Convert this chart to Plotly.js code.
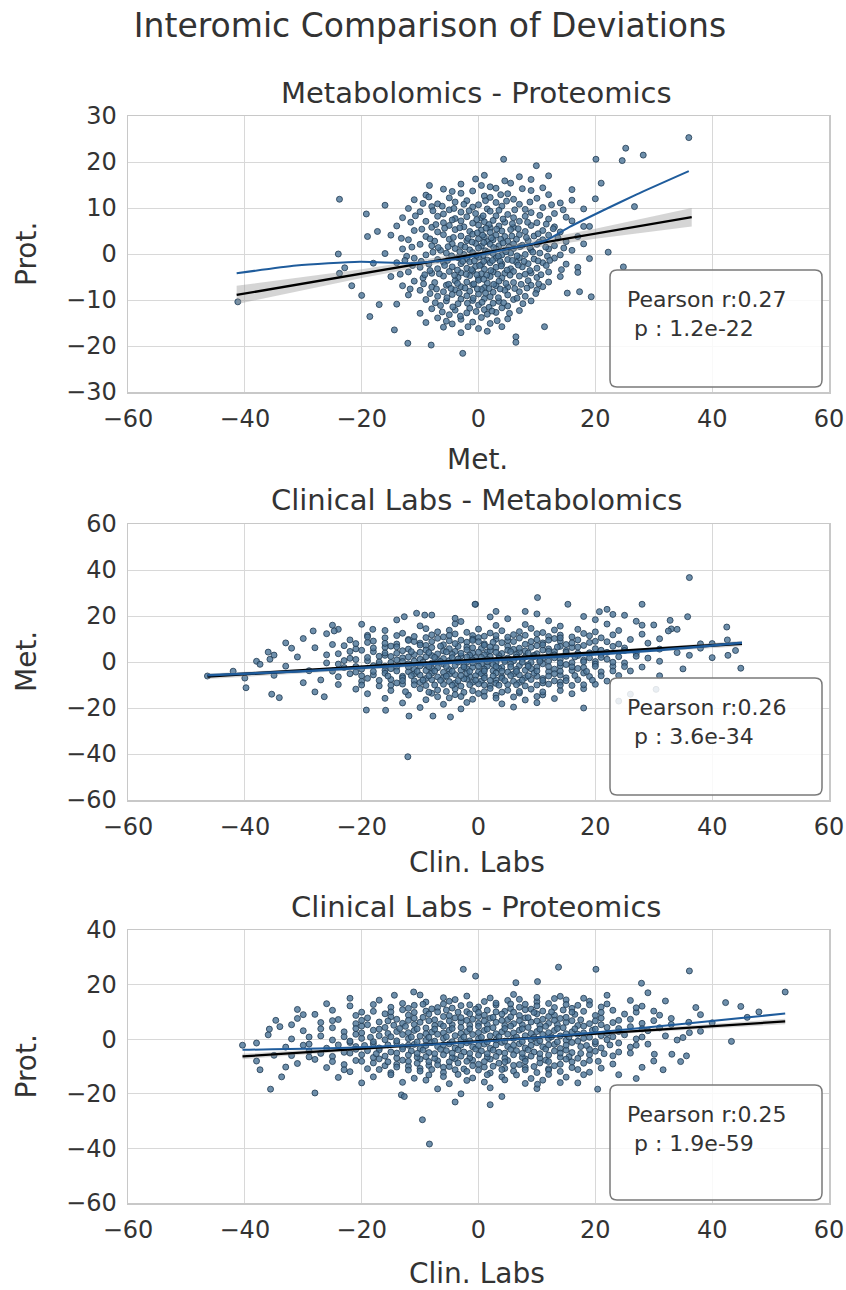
<!DOCTYPE html>
<html>
<head>
<meta charset="utf-8">
<script src="https://cdn.plot.ly/plotly-3.0.1.min.js"></script>
<style>html,body{margin:0;padding:0;background:#fff}#chart{width:846px;height:1290px}</style>
</head>
<body>
<div id="chart"></div>
<script>
// ---------- DATA ----------
const panelTitles = ['Metabolomics - Proteomics', 'Clinical Labs - Metabolomics', 'Clinical Labs - Proteomics'];
const xTitles = ['Met.', 'Clin. Labs', 'Clin. Labs'];
const yTitles = ['Prot.', 'Met.', 'Prot.'];
const pearsonR = ['0.27', '0.26', '0.25'];
const pValues = ['1.2e-22', '3.6e-34', '1.9e-59'];

// Panel 1: Met. (x) vs Prot. (y)
const p1Points = [
[-3,15.2],[2,14.6],[5.5,15.4],[-0.5,16.3],[4.5,15.9],[9,16.2],[1,17.1],[7,16.8],
[-6,14.1],[-1,13.7],[3,14.3],[9,13.8],
[-9,12.8],[-3,13.2],[1,12.6],[5,13.1],[12,12.9],
[-11,11.8],[-5,12.2],[-2,11.6],[2,12.3],[6,11.9],[10,12.1],[16,11.7],
[-7,10.9],[-4,11.3],[0,10.7],[3,11.2],[7,10.8],[14,11.1],
[-12,9.9],[-8,10.3],[-5,9.6],[-1,10.2],[1.5,9.8],[4,10.4],[8,9.7],[11,10.1],[18,9.8],
[-10,9.2],[-6,8.7],[-3,9.1],[-0.5,8.8],[2,9.3],[5,8.6],[9,9.0],[13,8.8],
[-13,7.9],[-7,8.2],[-4,7.7],[-2,8.1],[0.5,7.8],[3,8.3],[6,7.9],[8,8.2],[12,7.6],[15,8.0],
[-9,7.1],[-6,6.8],[-3,7.2],[-1,6.7],[1,7.0],[2.5,7.3],[4.5,6.9],[7,7.1],[10,6.8],[16,7.2],
[-14,6.1],[-8,5.8],[-5,6.2],[-2.5,5.9],[0,6.3],[2,5.7],[3.5,6.1],[6,5.8],[9,6.2],[13,5.9],[19,6.0],
[-11,5.1],[-7,4.8],[-4,5.3],[-1.5,4.9],[0.5,5.2],[2,4.7],[4,5.0],[5.5,5.3],[8,4.9],[11,5.1],[14,4.8],
[-15,4.1],[-9,3.8],[-6,4.2],[-3,3.9],[-1,4.3],[1,3.7],[3,4.1],[4.5,3.8],[7,4.2],[9.5,3.9],[12,4.1],[17,3.8],
[-12,3.1],[-7.5,2.8],[-5,3.2],[-2,2.9],[0,3.3],[1.5,2.7],[2.5,3.1],[5,2.8],[6.5,3.2],[8.5,2.9],[11,3.1],[15,2.7],
[-10,2.1],[-8,1.8],[-4.5,2.2],[-3,1.9],[-0.5,2.3],[0.5,1.7],[2,2.1],[3.5,1.8],[6,2.2],[7.5,1.9],[10,2.1],[13,1.8],[18,2.2],
[-13,1.1],[-6.5,0.8],[-4,1.2],[-1.5,0.9],[0,1.3],[1.2,0.7],[3,1.1],[4.5,0.8],[6,1.2],[9,0.9],[12,1.1],[16,0.8],
[-16,0.1],[-9,-0.2],[-5.5,0.2],[-2.5,-0.1],[-1,0.3],[0.8,-0.3],[2.5,0.1],[4,-0.2],[5.5,0.2],[8,-0.1],[10.5,0.2],[14,-0.2],
[-11,-0.9],[-7,-1.2],[-3.5,-0.8],[-2,-1.1],[0,-0.7],[1.5,-1.3],[3,-0.9],[5,-1.2],[7,-0.8],[9.5,-1.1],[13,-0.9],
[-14,-1.9],[-8.5,-2.2],[-6,-1.8],[-3,-2.1],[-1.5,-1.7],[0.5,-2.3],[2,-1.9],[4,-2.2],[6.5,-1.8],[8.5,-2.1],[11,-1.9],[15,-2.2],
[-10,-2.9],[-7,-3.2],[-4.5,-2.8],[-2,-3.1],[-0.5,-2.7],[1,-3.3],[3,-2.9],[5.5,-3.2],[7.5,-2.8],[10,-3.1],[17,-2.9],
[-12,-3.9],[-8,-4.2],[-5,-3.8],[-3,-4.1],[-1,-3.7],[0.5,-4.3],[2.5,-3.9],[4.5,-4.2],[6,-3.8],[9,-4.1],[12,-3.9],
[-15,-4.9],[-9.5,-5.2],[-6,-4.8],[-3.5,-5.1],[-1.5,-4.7],[0,-5.3],[2,-4.9],[4,-5.2],[7,-4.8],[10,-5.1],[14,-4.9],
[-11,-5.9],[-7.5,-6.2],[-4,-5.8],[-2,-6.1],[0,-5.7],[1.5,-6.3],[3.5,-5.9],[6,-6.2],[8.5,-5.8],[12,-6.1],
[-13,-6.9],[-8,-7.2],[-5.5,-6.8],[-3,-7.1],[-1,-6.7],[1,-7.3],[3,-6.9],[5,-7.2],[9,-6.8],[11,-7.1],
[-10,-7.9],[-6,-8.2],[-4,-7.8],[-1.5,-8.1],[0.5,-7.7],[2.5,-8.3],[4.5,-7.9],[7,-8.2],[10,-7.8],
[-12,-8.9],[-7,-9.2],[-4.5,-8.8],[-2,-9.1],[0,-8.7],[2,-9.3],[5,-8.9],[8,-9.2],
[-9,-9.9],[-5.5,-10.2],[-3,-9.8],[-1,-10.1],[1,-9.7],[3.5,-10.3],[6,-9.9],[9,-10.2],
[-14,-10.9],[-6.5,-11.2],[-3.5,-10.8],[0,-11.1],[2.5,-10.7],[5,-11.3],
[-8,-11.9],[-4,-12.2],[-1.5,-11.8],[1,-12.1],[4,-11.7],[7,-12.3],
[-10,-12.9],[-5,-13.2],[-2,-12.8],[1.5,-13.1],[3,-12.7],
[-7,-13.9],[-3,-14.2],[0.5,-13.8],[5,-14.1],
[-9,-14.9],[-4.5,-15.2],[-1,-14.8],[2,-15.1],
[-6,-15.9],[0,-16.2],[4,-15.8],[-3,-17.1],[1.5,-16.8],
[-8.5,12.4],[-4.5,13.6],[0.5,14.9],[3.8,12.9],[7.5,14.2],[11,14.4],
[-9.5,11.0],[-6.2,10.4],[-2.5,10.8],[1.2,11.6],[4.8,11.5],[8.8,11.3],[12.5,10.7],
[-10.8,8.3],[-7.8,9.4],[-4.2,9.9],[-1.6,9.4],[0.8,8.3],[3.5,9.5],[6.2,9.6],[10.5,8.4],[14.5,9.6],
[-11.6,6.9],[-7.3,6.4],[-4.5,7.4],[-0.3,7.5],[1.8,6.4],[4.2,7.6],[5.8,6.6],[8.4,6.9],[11.6,6.5],
[-9.7,5.4],[-5.8,5.6],[-3.2,5.7],[-0.2,4.6],[1.3,5.6],[3.1,5.4],[6.8,5.5],[10.2,4.4],[12.8,5.5],
[-13.2,3.4],[-8.3,3.3],[-4.3,3.6],[-1.8,3.4],[0.7,4.1],[2.2,3.5],[3.8,3.2],[5.7,3.9],[8.2,3.6],[10.4,2.6],[13.6,3.5],
[-11.4,1.5],[-6.9,1.4],[-5.2,1.6],[-2.3,1.5],[-1.1,2.6],[0.9,2.5],[2.6,1.4],[4.2,2.4],[5.2,1.5],[7.1,1.6],[8.8,1.4],[11.5,1.5],[14.6,1.3],
[-12.3,-0.5],[-7.8,0.4],[-4.6,-0.4],[-3.2,0.5],[-0.4,-0.3],[1.6,0.4],[3.4,-0.5],[4.7,0.5],[6.6,-0.4],[9.3,0.4],[11.8,-0.5],
[-12.6,-1.4],[-9.8,-1.6],[-5.3,-1.4],[-2.7,-1.6],[-0.7,-1.5],[0.9,-1.6],[2.4,-1.4],[3.7,-1.6],[5.8,-1.4],[7.8,-1.6],[10.2,-1.5],[12.2,-1.4],
[-11.3,-2.5],[-8.3,-3.6],[-5.8,-2.5],[-3.6,-3.5],[-1.2,-3.4],[0.2,-2.5],[2.1,-3.6],[3.9,-2.6],[4.9,-3.5],[6.8,-2.4],[8.8,-3.6],[11.6,-2.5],[14.2,-3.4],
[-13.4,-4.4],[-9.2,-4.5],[-6.7,-4.3],[-4.1,-4.6],[-2.1,-4.4],[-0.3,-4.5],[1.4,-4.6],[3.3,-4.4],[5.4,-4.6],[8,-4.4],[10.7,-4.5],
[-9.4,-6.5],[-5.1,-6.6],[-3.6,-6.4],[-0.8,-6.5],[0.9,-5.5],[2.6,-6.6],[4.7,-6.4],[7.3,-6.6],[10.3,-6.5],
[-11.7,-7.6],[-7.2,-7.6],[-4.7,-7.5],[-2.3,-7.4],[-0.2,-7.6],[1.8,-7.5],[3.7,-7.6],[6.2,-7.5],[8.3,-7.4],
[-8.3,-8.6],[-5.4,-9.5],[-3.3,-8.5],[-0.9,-9.6],[1.2,-8.5],[3.4,-9.5],[6.6,-9.6],[9.8,-8.6],
[-7.4,-10.6],[-4.4,-11.5],[-1.9,-10.7],[0.6,-10.5],[1.8,-11.6],[4.3,-10.6],[7.6,-10.8],
[-6.2,-12.6],[-3.1,-13.5],[-0.4,-12.5],[2.3,-12.4],[5.3,-12.9],[-5.5,-14.6],[-1.8,-15.8],[3.2,-14.5],
[36,25.3],[25.2,23],[28.2,21.5],[24.6,20.3],[20.1,20.6],[4.3,20.6],[9.9,19.2],[21,15.4],[26.7,10.3],[22.2,0.4],
[24.8,-2.8],[19.3,-9.3],[17.3,-8.2],[15.2,-8.5],[11.3,-15.8],[6.4,-18],[6.4,-19.2],[-23.8,11.9],[-24,0],[-41.2,-10.4],
[-21.7,-6.9],[-19.2,8.7],[-18.6,-13.6],[-16,10.6],[-8.4,14.9],[-14.4,-16.5],[-12.1,-19.4],[-8.1,-19.8],[-2.7,-21.6],
[-19,3.8],[-17.3,4.9],[-23.8,-4.2],[-22.9,-3],[20,12],[18,6],[17,-4],[19,-1],[-18,-2],[-20,-9],[-17,-11],[16,14],[12,17]
];
const p1FitX = [-41.4, 36.5];
const p1FitY = [-8.9, 8.0];
const p1CiX = [-41.4, -20, 0, 20, 36.5];
const p1CiUpper = [-6.9, -3.3, 0.7, 5.5, 10.0];
const p1CiLower = [-10.9, -5.2, -0.5, 3.3, 6.0];
const p1LowessX = [-41.4, -31.2, -20.3, -11.2, -2.7, 5.3, 11.6, 15.6, 21.2, 27, 36];
const p1LowessY = [-4.2, -2.5, -1.7, -2.0, -0.9, 1.2, 3.0, 5.9, 9.4, 12.9, 18.0];

// Panel 2: Clin. Labs (x) vs Met. (y)
const p2Points = [
[-8,20.4],[2,19.6],[10,20.9],[18,19.8],[25,20.3],
[-14,18.3],[-3,17.6],[5,18.8],[12,17.9],[20,18.4],[27,17.7],
[-20,16.4],[-10,15.7],[-4,16.6],[3,15.9],[8,16.3],[14,15.6],[22,16.5],[30,16.1],
[-24,14.2],[-16,13.7],[-9,14.5],[-5,13.8],[0,14.3],[4,13.6],[9,14.6],[13,13.9],[17,14.2],[24,13.7],[33,14.4],
[-26,12.3],[-19,11.6],[-13,12.5],[-8,11.8],[-4,12.2],[-1,11.5],[2,12.6],[6,11.9],[10,12.3],[14,11.7],[18,12.4],[23,11.8],[28,12.1],
[-30,10.2],[-22,9.6],[-16,10.5],[-12,9.8],[-7,10.3],[-3,9.5],[0,10.6],[3,9.9],[7,10.4],[10,9.7],[13,10.2],[17,9.6],[21,10.5],[26,9.8],[31,10.1],
[-33,8.3],[-25,7.6],[-19,8.5],[-14,7.8],[-10,8.2],[-6,7.5],[-2,8.6],[1,7.9],[4,8.4],[8,7.7],[11,8.3],[15,7.6],[19,8.5],[24,7.8],[29,8.2],[38,7.9],
[-28,6.2],[-21,5.7],[-16,6.4],[-12,5.6],[-8,6.3],[-5,5.8],[-2,6.5],[0.5,5.9],[3,6.2],[6,5.5],[9,6.4],[12,5.7],[16,6.3],[20,5.8],[25,6.1],[31,5.6],
[-36,4.3],[-24,3.6],[-18,4.5],[-14,3.8],[-10,4.2],[-7,3.5],[-4,4.6],[-1,3.9],[1.5,4.4],[4,3.7],[7,4.3],[10,3.6],[13,4.5],[17,3.8],[22,4.2],[27,3.7],[34,4.1],
[-31,2.2],[-22,1.6],[-17,2.5],[-13,1.8],[-9,2.3],[-6,1.5],[-3,2.6],[-0.5,1.9],[2,2.4],[5,1.7],[8,2.2],[11,1.6],[15,2.5],[19,1.8],[24,2.3],[29,1.7],
[-38,0.3],[-26,-0.4],[-19,0.5],[-15,-0.2],[-11,0.4],[-8,-0.5],[-5,0.6],[-2,-0.1],[0,0.3],[3,-0.4],[6,0.5],[9,-0.2],[12,0.4],[16,-0.3],[20,0.2],[25,-0.4],[31,0.3],
[-33,-1.8],[-23,-2.4],[-18,-1.6],[-14,-2.2],[-10,-1.7],[-7,-2.5],[-4,-1.5],[-1,-2.3],[1.5,-1.8],[4,-2.4],[7,-1.6],[10,-2.2],[14,-1.7],[18,-2.4],[23,-1.9],[28,-2.2],
[-29,-3.8],[-21,-4.4],[-16,-3.6],[-12,-4.2],[-9,-3.7],[-6,-4.5],[-3,-3.5],[0,-4.3],[2.5,-3.8],[5,-4.4],[8,-3.6],[12,-4.2],[16,-3.7],[21,-4.3],[26,-3.9],
[-35,-5.8],[-24,-6.4],[-18,-5.6],[-13,-6.2],[-10,-5.7],[-7,-6.5],[-4,-5.5],[-1.5,-6.3],[1,-5.8],[4,-6.4],[7,-5.6],[10,-6.2],[14,-5.7],[19,-6.3],[24,-5.9],
[-27,-7.8],[-20,-8.4],[-15,-7.6],[-11,-8.2],[-8,-7.7],[-5,-8.5],[-2,-7.5],[0.5,-8.3],[3,-7.8],[6,-8.4],[9,-7.6],[13,-8.2],[17,-7.7],[22,-8.3],
[-24,-9.8],[-17,-10.4],[-13,-9.6],[-9,-10.2],[-6,-9.7],[-3,-10.5],[0,-9.5],[2,-10.3],[5,-9.8],[8,-10.4],[12,-9.6],[16,-10.2],[20,-9.7],
[-21,-11.8],[-15,-12.4],[-10,-11.6],[-7,-12.2],[-4,-11.7],[-1,-12.5],[2,-11.5],[5,-12.3],[9,-11.8],[14,-12.4],[18,-11.6],
[-19,-13.8],[-12,-14.4],[-8,-13.6],[-4,-14.2],[0,-13.7],[3,-14.5],[7,-13.5],[11,-14.3],[16,-13.8],
[-16,-15.8],[-9,-16.4],[-5,-15.6],[-1,-16.2],[3,-15.7],[8,-16.5],[13,-15.9],
[-13,-17.8],[-6,-18.4],[-2,-17.6],[4,-18.2],[10,-17.7],
[-10,-19.8],[-3,-20.4],[6,-19.6],
[-18,9.1],[-11,8.9],[-5,9.2],[0,8.8],[5,9.3],[9,8.9],[14,9.1],[20,9.0],
[-23,7.1],[-15,6.9],[-9,7.2],[-3.5,6.8],[1,7.3],[5,6.9],[10,7.1],[14,6.8],[18,7.2],
[-20,5.1],[-13,4.9],[-9,5.2],[-6,4.8],[-2,5.3],[2,4.9],[5,5.1],[8,4.8],[11,5.2],[15,4.9],[21,5.1],
[-26,3.1],[-16,2.9],[-11,3.2],[-8,2.8],[-4.5,3.3],[-1.5,2.9],[1,3.1],[3.5,2.8],[6.5,3.2],[9.5,2.9],[13,3.1],[17,2.8],[21,3.2],
[-21,1.1],[-14,0.9],[-10,1.2],[-7,0.8],[-3.5,1.3],[-1,0.9],[1.5,1.1],[4.5,0.8],[7.5,1.2],[10.5,0.9],[14,1.1],[18,0.8],[22,1.2],
[-24,-0.9],[-17,-1.1],[-12,-0.8],[-9,-1.2],[-6,-0.9],[-2.5,-1.3],[0.5,-0.8],[2.5,-1.1],[5.5,-0.9],[8.5,-1.2],[11,-0.8],[15,-1.1],[20,-0.9],
[-20,-3.1],[-15,-2.9],[-11,-3.2],[-8,-2.8],[-5,-3.3],[-2,-2.9],[1,-3.1],[3.5,-2.8],[6.5,-3.2],[9,-2.9],[13,-3.1],[17,-2.8],
[-22,-5.1],[-16,-4.9],[-11,-5.2],[-8,-4.8],[-5,-5.3],[-2,-4.9],[0.5,-5.1],[3,-4.8],[6,-5.2],[9.5,-4.9],[13,-5.1],[18,-4.8],
[-19,-7.1],[-13,-6.9],[-9,-7.2],[-6,-6.8],[-2.5,-7.3],[1,-6.9],[4,-7.1],[8,-6.8],[11,-7.2],[15,-6.9],
[-14,-9.1],[-10,-8.9],[-4,-9.2],[-1,-8.8],[3,-9.3],[7,-8.9],[11,-9.1],[14,-8.8],
[-11,11.1],[-6,10.9],[1,11.2],[5,10.8],[12,11.1],[16,10.9],
[-7,13.1],[-2,12.9],[7,13.2],[11,12.8],[20,13.1],
[-19,10.9],[-14,11.5],[-9,10.6],[-5,11.6],[-1,10.0],[3,11.5],[8,11.6],[14,10.5],[19,11.4],
[-21,8.0],[-16,8.1],[-12,9.4],[-8,8.9],[-4,8.0],[-1,9.4],[2.5,8.6],[6,8.9],[12,9.5],[16,8.3],[22,8.8],
[-18,6.1],[-14,6.6],[-10,7.4],[-6.5,6.9],[-1,6.2],[2,6.6],[7,6.0],[11,7.5],[13.5,6.5],[17,6.5],[23,6.8],
[-22,4.6],[-16,3.9],[-11.5,4.5],[-8.5,4.1],[-5.5,4.4],[-3,3.8],[0,4.3],[3,4.2],[5.5,4.5],[8.5,3.9],[12,4.6],[15,4.2],[19,4.0],[25,5.0],
[-19,2.0],[-15,2.4],[-12,2.2],[-7.5,2.0],[-4.5,1.9],[-2,2.2],[0.5,2.0],[3.5,1.6],[6.5,2.1],[9.5,2.3],[13,1.8],[16.5,2.2],[21,2.0],[27,2.5],
[-23,0.6],[-17,0.0],[-13,0.2],[-9.5,-0.1],[-6.5,0.2],[-3.5,0.0],[-1,-0.3],[1.5,0.1],[4.5,0.2],[7.5,-0.1],[10.5,0.3],[14,-0.4],[18,0.1],[23,-0.1],
[-21,-2.0],[-16,-1.8],[-12,-2.1],[-8.5,-2.0],[-5.5,-1.9],[-2.5,-2.1],[0,-1.8],[3,-2.0],[5.5,-2.1],[8.5,-1.9],[12,-2.0],[16,-2.1],[20,-1.9],[25,-2.0],
[-25,-4.0],[-18,-4.1],[-14,-3.9],[-10.5,-4.1],[-7.5,-3.9],[-4.5,-4.0],[-1.5,-4.1],[1,-3.9],[4,-4.0],[6.5,-4.1],[10,-3.9],[14,-4.0],[18.5,-4.1],[23,-3.9],
[-20,-6.0],[-15.5,-6.1],[-11.5,-5.9],[-8.5,-6.0],[-5.5,-6.1],[-3,-5.9],[-0.5,-6.0],[2.5,-6.1],[5.5,-5.9],[8.5,-6.0],[12,-6.1],[16.5,-5.9],[21,-6.0],
[-17,-8.0],[-13,-8.1],[-9.5,-7.9],[-6.5,-8.0],[-3.5,-8.1],[-0.5,-7.9],[2,-8.0],[4.5,-8.1],[7.5,-7.9],[11,-8.0],[15,-8.1],[19.5,-7.9],
[-20,-10.0],[-15,-10.1],[-11,-9.9],[-7.5,-10.0],[-4.5,-10.1],[-1.5,-9.9],[1,-10.0],[3.5,-10.1],[6.5,-9.9],[10,-10.0],[14,-10.1],[18,-9.9],
[-12.5,-12.9],[-8.5,-13.1],[-5.5,-12.8],[-2.5,-13.2],[1,-12.9],[4,-13.1],[7,-12.8],[11,-13.0],[-7,-15.1],[-3,-15.0],[1,-14.9],[6,-15.2],[10,-15.0],
[36.1,36.7],[28,25.1],[15.3,25.1],[10.1,28],[-0.5,25.1],[35.8,19.7],[32.8,18.1],[42.5,15.2],[42.6,9.6],[44.9,-2.7],
[40,1.9],[42.7,2.9],[36.1,2.9],[34,14.2],[32.5,13.5],[30.4,-11.9],[22,22.9],[20.7,21.9],[23,20.7],[-12.1,-41.2],
[-46.4,-6.1],[-39.8,-11.2],[-37.4,-1],[-35.7,1.2],[-35,3],[-28.3,13.5],[-24.7,13.5],[-35.4,-14],[-34.1,-15.5],[-26.4,-15.1],
[-19.2,-20.9],[-15.9,-21],[-11.9,-23.5],[-7.8,-23.5],[-4.8,-23.9],[-18.1,14.2],[-12.7,19.7],[-10.6,21.2],[-9.2,20.4],[-0.6,25.1],
[38,6],[40,8],[44,5],[-42,-4],[-40,-7],[-30,-9],[-32,6],[-28,-13],[26,-14],[24,-17],[18,-20],[31,-6],[35,-3],[-25,16],[28,16],[3,22],[8,22],[-4,19]
];
const p2FitX = [-46.4, 45.1];
const p2FitY = [-6.2, 8.0];
const p2CiX = [-46.4, 0, 45.1];
const p2CiUpper = [-5.0, 0.5, 9.2];
const p2CiLower = [-7.4, -0.4, 6.8];
const p2LowessX = [-46.4, -30, -15, 0, 15, 30, 45.1];
const p2LowessY = [-5.8, -4.0, -1.8, 0.3, 2.5, 5.0, 8.4];

// Panel 3: Clin. Labs (x) vs Prot. (y)
const p3Points = [
[-10,16.2],[-2,15.8],[6,16.4],[14,15.7],[22,16.1],
[-17,14.3],[-9,13.6],[-4,14.5],[1,13.8],[5,14.2],[10,13.7],[15,14.4],[19,13.9],[26,14.2],
[-22,12.2],[-15,11.7],[-11,12.4],[-7,11.6],[-3,12.3],[0,11.8],[3,12.5],[7,11.7],[10,12.2],[13,11.6],[17,12.4],[21,11.8],[28,12.1],
[-25,10.6],[-18,10.2],[-13,10.8],[-9,10.3],[-5.5,10.7],[-2,10.1],[1.5,10.6],[4.5,10.2],[8,10.8],[11,10.3],[14.5,10.7],[18,10.2],[23,10.6],[30,10.3],
[-28,9.1],[-21,8.7],[-16,9.3],[-12,8.8],[-8.5,9.2],[-5,8.6],[-1.5,9.3],[1,8.8],[4,9.2],[7,8.7],[10,9.3],[13,8.8],[16.5,9.1],[20,8.7],[25,9.2],[31,8.8],
[-31,7.6],[-24,7.2],[-19,7.8],[-14,7.3],[-11,7.7],[-7.5,7.1],[-4,7.8],[-1,7.3],[2,7.7],[5,7.2],[8,7.8],[11,7.3],[14,7.6],[17.5,7.1],[21,7.7],[26,7.3],[33,7.6],
[-27,6.1],[-21,5.7],[-17,6.3],[-13,5.8],[-10,6.2],[-6.5,5.6],[-3,6.3],[0,5.8],[3,6.2],[6,5.7],[9,6.3],[12,5.8],[15,6.2],[19,5.7],[23,6.1],[28,5.8],[36,6.2],
[-34,4.6],[-25,4.2],[-20,4.8],[-16,4.3],[-12.5,4.7],[-9,4.1],[-6,4.8],[-3,4.3],[0,4.7],[2.5,4.2],[5.5,4.8],[8.5,4.3],[11.5,4.7],[14.5,4.2],[18,4.8],[22,4.3],[26,4.6],[31,4.2],
[-30,3.1],[-23,2.7],[-18,3.3],[-14,2.8],[-11,3.2],[-8,2.6],[-5,3.3],[-2,2.8],[1,3.2],[4,2.7],[7,3.3],[10,2.8],[13,3.2],[16,2.7],[19.5,3.3],[24,2.8],[29,3.1],[38,2.9],
[-36,1.6],[-27,1.2],[-21,1.8],[-17,1.3],[-13,1.7],[-10,1.1],[-7,1.8],[-4,1.3],[-1,1.7],[2,1.2],[5,1.8],[8,1.3],[11,1.7],[14,1.2],[17,1.8],[21,1.3],[25,1.6],[32,1.2],
[-32,0.1],[-25,-0.3],[-20,0.3],[-16,-0.2],[-12,0.2],[-9,-0.4],[-6,0.3],[-3,-0.2],[0,0.2],[3,-0.3],[6,0.3],[9,-0.2],[12,0.2],[15,-0.4],[18,0.3],[22,-0.2],[27,0.1],[34,-0.3],
[-38,-1.4],[-29,-1.8],[-22,-1.2],[-18,-1.7],[-14,-1.3],[-11,-1.9],[-8,-1.2],[-5,-1.7],[-2,-1.3],[1,-1.8],[4,-1.2],[7,-1.7],[10,-1.3],[13,-1.9],[16,-1.2],[20,-1.7],[24,-1.4],[29,-1.8],
[-33,-2.9],[-26,-3.3],[-21,-2.7],[-17,-3.2],[-13,-2.8],[-10,-3.4],[-7,-2.7],[-4,-3.2],[-1,-2.8],[2,-3.3],[5,-2.7],[8,-3.2],[11,-2.8],[14,-3.4],[17.5,-2.7],[21,-3.2],[26,-2.9],
[-29,-4.4],[-23,-4.8],[-19,-4.2],[-15,-4.7],[-11.5,-4.3],[-8.5,-4.9],[-5.5,-4.2],[-2.5,-4.7],[0.5,-4.3],[3.5,-4.8],[6.5,-4.2],[9.5,-4.7],[13,-4.3],[16,-4.9],[20,-4.4],[24,-4.7],
[-35,-5.9],[-25,-6.3],[-20,-5.7],[-16,-6.2],[-12,-5.8],[-9,-6.4],[-6,-5.7],[-3,-6.2],[0,-5.8],[3,-6.3],[6,-5.7],[9,-6.2],[12,-5.8],[15.5,-6.4],[19,-5.7],[23,-6.1],
[-28,-7.4],[-21,-7.8],[-17,-7.2],[-13,-7.7],[-10,-7.3],[-7,-7.9],[-4,-7.2],[-1,-7.7],[2,-7.3],[5,-7.8],[8,-7.2],[11.5,-7.7],[15,-7.3],[19,-7.8],
[-31,-8.9],[-23,-9.3],[-18,-8.7],[-14,-9.2],[-10.5,-8.8],[-7,-9.4],[-3.5,-8.7],[0,-9.2],[3.5,-8.8],[7,-9.3],[10.5,-8.7],[14,-9.2],[18,-8.8],[23,-9.1],
[-26,-10.4],[-19,-10.8],[-14,-10.2],[-10,-10.7],[-6,-10.3],[-2.5,-10.9],[1,-10.2],[4.5,-10.7],[8,-10.3],[12,-10.8],[16,-10.4],[21,-10.6],
[-22,-11.9],[-15,-12.3],[-10,-11.7],[-6,-12.2],[-2,-11.8],[2,-12.4],[6,-11.7],[10,-12.2],[14,-11.8],[19,-12.1],
[-18,-13.8],[-11,-14.3],[-6,-13.7],[-1,-14.2],[4,-13.8],[9,-14.4],[15,-13.9],
[-13,-15.8],[-5,-16.3],[1,-15.7],[8,-16.2],[14,-15.9],
[-7,-18.2],[2,-17.8],[10,-18.1],
[-15,8.2],[-9.5,8.0],[-6,8.3],[-3,7.9],[0,8.3],[2.5,8.0],[5.5,8.2],[8.5,7.9],[12,8.3],[15,8.0],
[-19,5.3],[-14.5,5.1],[-11,5.4],[-7.5,5.0],[-4.5,5.3],[-1.5,5.1],[1.5,5.4],[4.5,5.0],[7.5,5.3],[10.5,5.1],[13.5,5.4],[17,5.0],[21,5.3],
[-20,2.3],[-15.5,2.1],[-12,2.4],[-9,2.0],[-6,2.3],[-3,2.1],[0,2.4],[3,2.0],[6,2.3],[9,2.1],[12,2.4],[15,2.0],[18,2.3],[22,2.1],
[-22,-0.7],[-18,-0.9],[-14,-0.6],[-10.5,-1.0],[-7.5,-0.7],[-4.5,-0.9],[-1.5,-0.6],[1.5,-1.0],[4.5,-0.7],[7.5,-0.9],[10.5,-0.6],[13.5,-1.0],[17,-0.7],[20,-0.9],
[-21,-3.7],[-17,-3.9],[-13,-3.6],[-9.5,-4.0],[-6.5,-3.7],[-3.5,-3.9],[-0.5,-3.6],[2.5,-4.0],[5.5,-3.7],[8.5,-3.9],[11.5,-3.6],[15,-4.0],[19,-3.7],
[-18,-6.7],[-14,-6.9],[-10.5,-6.6],[-7.5,-7.0],[-4.5,-6.7],[-1.5,-6.9],[1.5,-6.6],[4.5,-7.0],[7.5,-6.7],[10.5,-6.9],[14,-6.6],[17,-7.0],
[-16,-9.7],[-12,-9.9],[-8.5,-9.6],[-5,-10.0],[-1,-9.7],[2.5,-9.9],[6,-9.6],[9.5,-10.0],[13,-9.7],
[-12,11.3],[-8,11.1],[-4.5,11.4],[-0.5,11.0],[5.5,11.2],[9,11.0],[16,11.3],
[-13,13.1],[-6,12.9],[3,13.2],[8,12.8],[12,13.1],[22,12.9],
[-6,15.2],[2,15.1],[10,15.3],[18,15.0],
[-18,12.7],[-9.5,12.8],[-1.5,12.6],[5.5,12.9],[15,12.7],[19,12.6],
[-20,9.9],[-15,10.0],[-11,9.8],[-7,10.0],[-3.5,9.9],[0,9.8],[3,10.0],[6,9.9],[9.5,9.8],[12.5,10.0],[16,9.9],[21,9.8],[27,9.9],
[-25,6.8],[-20,6.9],[-15.5,6.7],[-12,6.9],[-8.5,6.8],[-5,6.7],[-2,6.9],[1,6.7],[4,6.9],[7,6.8],[10,6.7],[13,6.9],[16,6.8],[20,6.7],[24,6.9],[30,6.8],
[-27,3.8],[-21,3.9],[-17,3.7],[-13.5,3.9],[-10.5,3.8],[-7.5,3.7],[-4.5,3.9],[-1.5,3.8],[1.5,3.7],[4.5,3.9],[7.5,3.8],[10.5,3.7],[13.5,3.9],[16.5,3.8],[20,3.7],[24,3.9],[28,3.8],
[-29,0.8],[-23,0.9],[-18.5,0.7],[-15,0.9],[-11.5,0.8],[-8.5,0.7],[-5.5,0.9],[-2.5,0.8],[0.5,0.7],[3.5,0.9],[6.5,0.8],[9.5,0.7],[12.5,0.9],[15.5,0.8],[19,0.7],[23,0.9],[28,0.8],
[-30,-2.2],[-24,-2.1],[-19.5,-2.3],[-15.5,-2.1],[-12,-2.2],[-9,-2.3],[-6,-2.1],[-3,-2.2],[0,-2.3],[3,-2.1],[6,-2.2],[9,-2.3],[12,-2.1],[15,-2.2],[18.5,-2.3],[22.5,-2.1],[27,-2.2],
[-27,-5.2],[-22,-5.1],[-17.5,-5.3],[-14,-5.1],[-10.5,-5.2],[-7.5,-5.3],[-4.5,-5.1],[-1.5,-5.2],[1.5,-5.3],[4.5,-5.1],[7.5,-5.2],[10.5,-5.3],[14,-5.1],[17.5,-5.2],[21.5,-5.3],[26,-5.1],
[-25,-8.2],[-20,-8.1],[-15.5,-8.3],[-12,-8.1],[-8.5,-8.2],[-5,-8.3],[-2,-8.1],[1,-8.2],[4.5,-8.3],[8,-8.1],[12,-8.2],[16,-8.3],[20.5,-8.1],
[-23,-11.2],[-17,-11.1],[-12,-11.3],[-8,-11.1],[-4,-11.2],[0,-11.3],[4,-11.1],[8,-11.2],[12,-11.3],[17,-11.1],
[-15,-13.0],[-8.5,-13.1],[-3.5,-12.9],[1.5,-13.0],[6.5,-13.1],[12,-12.9],[18,-13.0],
[-9,-15.0],[-2,-15.1],[4.5,-14.9],[11,-15.0],
[-5,13.9],[7,14.6],[13,14.9],[-32,5.3],[-29,-6.5],[-33,-10.2],[30,-8],[28,-10.3],[33,5.4],[35,0.6],[-31,10.9],[27,11.5],
[-40.4,-2.2],[-35.6,-18.3],[-37.4,-11.2],[-33.7,-13.8],[-28,-19.7],[-35.8,3.7],[-34.7,6.9],[-9.6,-29.5],[-8.4,-38.4],[-2.6,25.6],
[-0.5,23.1],[-14.4,16.1],[-11.1,17.3],[-13.2,-20.4],[-12.7,-21],[13.7,26.4],[20.1,25.6],[36.1,25],[52.5,17.3],[43.3,-0.8],
[6.4,20.7],[10.1,21.1],[27.9,20.5],[44.9,12],[42.3,13.4],[37.2,11.6],[31.6,-11.2],[34.6,-8.2],[35.6,-6.1],[33.1,-5.5],
[30.1,-5.5],[27,-14.4],[20.4,-18.3],[10.1,-16.5],[36.1,2.4],[-38,-8],[-32,-6],[-30,9],[-26,13],[-22,15],
[40,6],[46,8],[48,10],[38,9],[32,14],[29,17],[-3,-20],[4,-21],[2,-24],[-4,-23],[17,-16],[24,-13],[-24,-14],[-20,-16]
];
const p3FitX = [-40.4, 52.5];
const p3FitY = [-6.3, 6.5];
const p3CiX = [-40.4, 0, 52.5];
const p3CiUpper = [-5.3, -0.4, 7.5];
const p3CiLower = [-7.3, -1.05, 5.5];
const p3LowessX = [-40.4, -21.5, 0.5, 19.5, 34.4, 52.5];
const p3LowessY = [-3.9, -3.0, -0.9, 2.4, 5.5, 9.4];

const yRanges = [[-30, 30], [-60, 60], [-60, 40]];
const yDticks = [10, 20, 20];
const xRange = [-60, 60];

// ---------- LAYOUT GEOMETRY (pixels in the 846x1290 figure) ----------
const W = 846, H = 1290;
const fx = p => p / W;
const fy = p => 1 - p / H;
const plotLeft = 128, plotRight = 829;
const plotTops = [116, 524, 930];
const plotBottoms = [392, 800, 1203];
const titleYs = [93, 500, 907];
const xTitleYs = [460, 862, 1273];
const boxTops = [270, 678, 1085];
const boxBottoms = [387, 795, 1200];
const boxLeft = 610, boxRight = 822;

const FONT = 'DejaVu Sans, Verdana, sans-serif';
const TXT = '#333333';
const ptFill = 'rgba(78,118,152,0.82)';
const ptEdge = 'rgba(32,58,82,0.9)';
const lowessColor = '#1f5c9c';

const panels = [
  {pts: p1Points, fitX: p1FitX, fitY: p1FitY, ciX: p1CiX, ciU: p1CiUpper, ciL: p1CiLower, lwX: p1LowessX, lwY: p1LowessY},
  {pts: p2Points, fitX: p2FitX, fitY: p2FitY, ciX: p2CiX, ciU: p2CiUpper, ciL: p2CiLower, lwX: p2LowessX, lwY: p2LowessY},
  {pts: p3Points, fitX: p3FitX, fitY: p3FitY, ciX: p3CiX, ciU: p3CiUpper, ciL: p3CiLower, lwX: p3LowessX, lwY: p3LowessY}
];

const traces = [];
const layout = {
  width: W, height: H,
  margin: {l: 0, r: 0, t: 0, b: 0},
  paper_bgcolor: '#ffffff', plot_bgcolor: '#ffffff',
  showlegend: false,
  font: {family: FONT, color: TXT},
  title: {text: 'Interomic Comparison of Deviations', x: fx(430), xanchor: 'center', y: fy(25), yanchor: 'middle',
          font: {family: FONT, size: 33, color: TXT}},
  annotations: [], shapes: []
};

panels.forEach((p, i) => {
  const xa = i === 0 ? 'x' : 'x' + (i + 1);
  const ya = i === 0 ? 'y' : 'y' + (i + 1);
  const xk = i === 0 ? 'xaxis' : 'xaxis' + (i + 1);
  const yk = i === 0 ? 'yaxis' : 'yaxis' + (i + 1);

  traces.push({type: 'scatter', mode: 'markers', x: p.pts.map(d => d[0]), y: p.pts.map(d => d[1]),
    xaxis: xa, yaxis: ya, hoverinfo: 'skip',
    marker: {size: 6, color: ptFill, line: {color: ptEdge, width: 0.9}}});
  traces.push({type: 'scatter', mode: 'lines', x: p.ciX.concat(p.ciX.slice().reverse()),
    y: p.ciU.concat(p.ciL.slice().reverse()), fill: 'toself', fillcolor: 'rgba(150,150,150,0.4)',
    line: {width: 0, color: 'rgba(0,0,0,0)'}, xaxis: xa, yaxis: ya, hoverinfo: 'skip'});
  traces.push({type: 'scatter', mode: 'lines', x: p.fitX, y: p.fitY, line: {color: '#000000', width: i === 1 ? 3 : 2.3},
    xaxis: xa, yaxis: ya, hoverinfo: 'skip'});
  traces.push({type: 'scatter', mode: 'lines', x: p.lwX, y: p.lwY,
    line: {color: lowessColor, width: i === 1 ? 2.5 : 2, shape: 'spline', smoothing: 0.6},
    xaxis: xa, yaxis: ya, hoverinfo: 'skip'});

  const common = {showgrid: true, gridcolor: '#d8d8d8', gridwidth: 1, zeroline: false,
    showline: true, mirror: true, linecolor: '#c8c8c8', linewidth: 1.5,
    ticks: 'outside', ticklen: 5, tickcolor: 'rgba(0,0,0,0)',
    tickfont: {family: FONT, size: 24, color: TXT}, fixedrange: true, automargin: false};
  layout[xk] = Object.assign({}, common, {domain: [fx(plotLeft), fx(plotRight)], range: xRange, dtick: 20, tick0: 0, anchor: ya});
  layout[yk] = Object.assign({}, common, {domain: [fy(plotBottoms[i]), fy(plotTops[i])], range: yRanges[i], dtick: yDticks[i], tick0: 0, anchor: xa});

  layout.annotations.push({text: panelTitles[i], xref: 'paper', yref: 'paper', x: fx(476), y: fy(titleYs[i]),
    xanchor: 'center', yanchor: 'middle', showarrow: false, font: {family: FONT, size: 29, color: TXT}});
  layout.annotations.push({text: xTitles[i], xref: 'paper', yref: 'paper', x: fx(477), y: fy(xTitleYs[i]),
    xanchor: 'center', yanchor: 'middle', showarrow: false, font: {family: FONT, size: 28, color: TXT}});
  layout.annotations.push({text: yTitles[i], xref: 'paper', yref: 'paper', x: fx(26), y: fy((plotTops[i] + plotBottoms[i]) / 2),
    xanchor: 'center', yanchor: 'middle', textangle: -90, showarrow: false, font: {family: FONT, size: 28, color: TXT}});

  // rounded statistics box
  const L = fx(boxLeft), R = fx(boxRight), T = fy(boxTops[i]), B = fy(boxBottoms[i]);
  const rx = 7 / W, ry = 7 / H;
  const path = `M ${L + rx},${T} L ${R - rx},${T} Q ${R},${T} ${R},${T - ry} L ${R},${B + ry} Q ${R},${B} ${R - rx},${B} ` +
               `L ${L + rx},${B} Q ${L},${B} ${L},${B + ry} L ${L},${T - ry} Q ${L},${T} ${L + rx},${T} Z`;
  layout.shapes.push({type: 'path', xref: 'paper', yref: 'paper', path: path, layer: 'above',
    fillcolor: 'rgba(255,255,255,0.85)', line: {color: '#7a7a7a', width: 1.5}});
  layout.annotations.push({text: 'Pearson r:' + pearsonR[i] + '<br>\u00a0p : ' + pValues[i], xref: 'paper', yref: 'paper',
    x: fx(625), y: fy(boxTops[i] + 44), xanchor: 'left', yanchor: 'middle', align: 'left', showarrow: false,
    font: {family: FONT, size: 22, color: TXT}});
});

Plotly.newPlot('chart', traces, layout, {staticPlot: true, displayModeBar: false});
</script>
</body>
</html>
